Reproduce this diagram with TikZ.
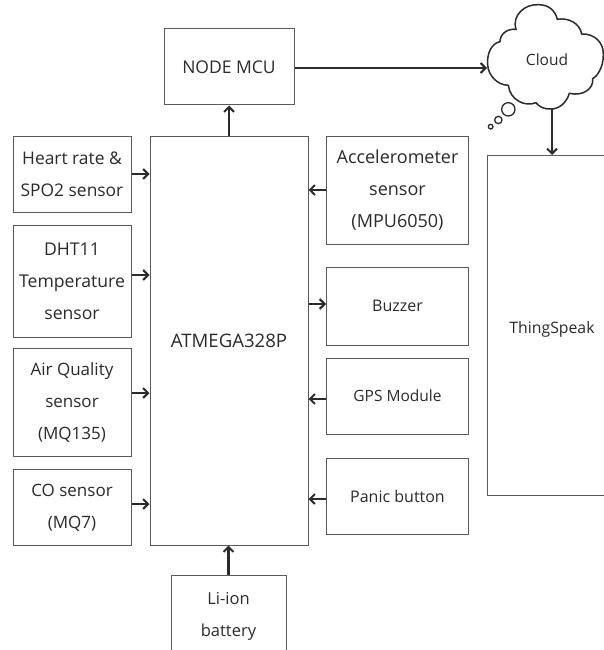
\documentclass[tikz,border=0pt]{standalone}
\usepackage{fontspec}
\setmainfont{Open Sans}
\usetikzlibrary{arrows.meta}
\definecolor{ink}{HTML}{2B2B2B}
\definecolor{edge}{HTML}{5A5A5A}
\newcommand{\fsz}[1]{\fontsize{#1}{32}\selectfont}
\tikzset{
  blk/.style={draw=edge,line width=1pt,fill=white,align=center,inner sep=0pt,text=ink,font=\fsz{17}},
  lbl/.style={align=center,inner sep=0pt,text=ink,font=\fsz{16.5}},
  arr/.style={draw=ink,line width=2.2pt,-{Straight Barb[length=5pt,width=10pt,line width=2pt]}},
  bub/.style={draw=ink,fill=white}
}
\begin{document}
\begin{tikzpicture}[x=1pt,y=-1pt]
\useasboundingbox (0,0) rectangle (604,650);
\clip (0,0) rectangle (604,650);
\node[blk,font=\fsz{18.6},minimum width=158pt,minimum height=409pt] (mega) at (229,340.5) {ATMEGA328P};
\node[blk,font=\fsz{17.5},minimum width=130pt,minimum height=76pt] (mcu) at (229,67) {NODE MCU};
\node[blk,font=\fsz{17.4},minimum width=118pt,minimum height=76pt] (heart) at (72,174) {Heart rate \&\\SPO2 sensor};
\node[blk,font=\fsz{17.6},minimum width=118pt,minimum height=112pt] (dht) at (72,281) {DHT11\\Temperature\\sensor};
\node[blk,minimum width=118pt,minimum height=108pt] (air) at (72,402.5) {Air Quality\\sensor\\(MQ135)};
\node[blk,minimum width=118pt,minimum height=76pt] (co) at (72,507.5) {CO sensor\\(MQ7)};
\node[blk,font=\fsz{18},minimum width=142pt,minimum height=108pt] (acc) at (397.5,190) {Accelerometer\\sensor\\(MPU6050)};
\node[blk,font=\fsz{16},minimum width=142pt,minimum height=78pt] (buz) at (397.5,306) {Buzzer};
\node[blk,font=\fsz{15.5},minimum width=142pt,minimum height=76pt] (gps) at (397.5,396) {GPS Module};
\node[blk,font=\fsz{16},minimum width=142pt,minimum height=76pt] (panic) at (397.5,496) {Panic button};
\node[blk,minimum width=115pt,minimum height=110pt,anchor=north] (li) at (228.5,575) {};
\node[lbl] (litext) at (228.5,616.5) {Li-ion\\battery};
\node[blk,minimum width=140pt,minimum height=340pt,anchor=north west] (ts) at (487,155) {};
\node[lbl,font=\fsz{15.8}] (tstext) at (552,329) {ThingSpeak};
% cloud
\begin{scope}[shift={(440,0)},x=0.3333pt,y=-0.3333pt]
\draw[bub,line width=1.5pt]
 (143,195) .. controls (140,160) and (155,130) .. (180,125)
 .. controls (180,100) and (205,85) .. (228,88)
 .. controls (215,45) and (255,12) .. (295,14)
 .. controls (325,14) and (345,30) .. (352,58)
 .. controls (385,52) and (420,70) .. (425,102)
 .. controls (465,100) and (492,130) .. (490,165)
 .. controls (490,205) and (470,230) .. (458,236)
 .. controls (462,265) and (430,290) .. (388,280)
 .. controls (378,315) and (350,328) .. (332,327)
 .. controls (310,328) and (295,318) .. (288,308)
 .. controls (255,322) and (210,300) .. (205,256)
 .. controls (170,255) and (145,225) .. (143,195) -- cycle;
\draw[bub,line width=1.3pt] (205,328) circle[radius=20];
\draw[bub,line width=1.3pt] (175,360) circle[radius=11];
\draw[bub,line width=1.3pt] (152,380) circle[radius=7];
\end{scope}
\node[font=\fontsize{15.5}{16}\selectfont,text=ink,inner sep=0pt] (cloud) at (547,60) {Cloud};
\coordinate (cloudW) at (487,68);
\coordinate (cloudS) at (552,109);
% connectors
\draw[arr] (mega.north) -- (mcu.south);
\draw[arr] (mcu.east |- cloudW) -- (cloudW);
\draw[arr] (cloudS) -- (cloudS |- ts.north);
\draw[arr] (heart.east |- 0,174) -- (mega.west |- 0,174);
\draw[arr] (dht.east |- 0,275) -- (mega.west |- 0,275);
\draw[arr] (air.east |- 0,393) -- (mega.west |- 0,393);
\draw[arr] (co.east |- 0,504) -- (mega.west |- 0,504);
\draw[arr] (acc.west |- 0,190) -- (mega.east |- 0,190);
\draw[arr] (mega.east |- 0,304) -- (buz.west |- 0,304);
\draw[arr] (gps.west |- 0,399) -- (mega.east |- 0,399);
\draw[arr] (panic.west |- 0,499) -- (mega.east |- 0,499);
\draw[arr] (li.north) -- (li.north |- mega.south);
\end{tikzpicture}
\end{document}
